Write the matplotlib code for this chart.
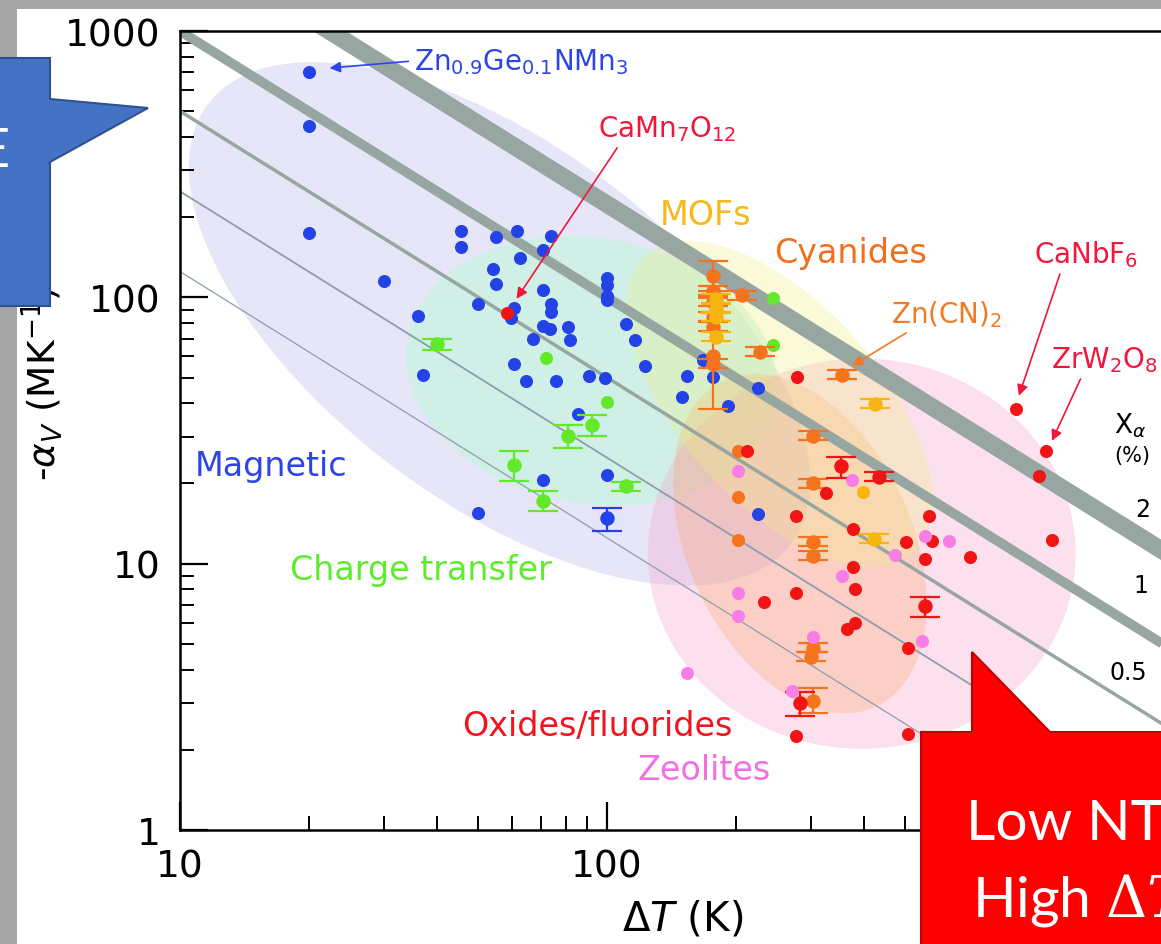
import numpy as np
import matplotlib
matplotlib.use("Agg")
import matplotlib.pyplot as plt
from matplotlib.patches import Polygon, Rectangle
from matplotlib.ticker import FuncFormatter, NullFormatter

# --- values: dT (K) vs -alpha_V (MK^-1) ---
# magnetic (blue)
BLUE_T = [20, 20, 20, 30, 36, 37, 45.5, 45.5, 55, 61.5, 74, 71, 62.5, 54, 55, 71,
          50, 60.5, 59.5, 74, 74, 100, 100, 100, 100, 71, 73.5, 81, 67, 82, 111, 116,
          60.5, 64.5, 76, 91, 99, 85.5, 71, 100, 50, 123, 154, 177, 168, 150, 192, 226, 226]
BLUE_A = [700, 440, 175, 115, 85, 51, 178, 155, 169, 178, 170, 151, 141, 128, 112, 107,
          94.5, 91, 84, 94.5, 88, 118, 111, 101, 98, 78, 76, 77.5, 70, 69, 79.5, 69,
          56, 48.6, 48.6, 50.7, 50, 36.6, 20.7, 21.6, 15.5, 55, 50.7, 50.3, 58.3, 42.3, 39.2, 45.8, 15.3]
BLUE_ERR_T = [100]
BLUE_ERR_A = [14.9]
BLUE_ERR_LO = [13.3]
BLUE_ERR_HI = [16.2]

# charge transfer (green)
GREEN_T = [72, 100, 245, 245]
GREEN_A = [59, 40.5, 99, 66]
GREEN_ERR_T = [40, 92, 81, 60.5, 71]
GREEN_ERR_A = [67, 33.2, 30.2, 23.5, 17.2]
GREEN_ERR_LO = [63.5, 30.2, 27.3, 20.5, 15.7]
GREEN_ERR_HI = [70, 36.2, 33.2, 26.5, 18.8]
GREEN_SMALL_T = [111]
GREEN_SMALL_A = [19.5]

# cyanides (orange)
ORANGE_T = [203, 203, 203]
ORANGE_A = [26.5, 17.8, 12.3]
ORANGE_ERR_T = [177, 177, 304]
ORANGE_ERR_A = [120, 60, 3.06]
ORANGE_ERR_LO = [106, 38, 2.74]
ORANGE_ERR_HI = [137, 99, 3.40]
ORANGE_SMALL_T = [177, 177, 177, 177, 177, 207, 228, 355, 304, 304, 304, 304, 304, 300]
ORANGE_SMALL_A = [105.8, 96.2, 84.5, 77.5, 56.3, 102, 62.4, 51.2, 30.2, 20, 12.1, 10.7, 4.84, 4.48]

# MOFs (yellow)
YELLOW_T = [398]
YELLOW_A = [18.6]
YELLOW_SMALL_T = [180, 180, 180, 180, 424, 422]
YELLOW_SMALL_A = [98.7, 90.5, 84.5, 71.1, 39.8, 12.4]

# oxides / fluorides (red)
RED_T = [58.3, 279, 213, 326, 277, 377, 377, 381, 277, 233, 381, 365, 277, 507, 507,
         568, 501, 577, 555, 708, 907, 1067, 1027, 1102]
RED_A = [87.5, 50.3, 26.5, 18.5, 15.1, 13.5, 9.74, 8.06, 7.78, 7.2, 6.0, 5.7, 2.26, 2.30, 4.84,
         15.1, 12.1, 12.2, 10.4, 10.6, 38.2, 26.5, 21.4, 12.3]
RED_ERR_T = [353, 283, 555]
RED_ERR_A = [23.3, 3.01, 6.96]
RED_ERR_LO = [21.0, 2.69, 6.33]
RED_ERR_HI = [25.2, 3.31, 7.52]
RED_SMALL_T = [433]
RED_SMALL_A = [21.2]

# zeolites (pink)
PINK_T = [203, 375, 473, 555, 632, 355, 203, 203, 304, 154, 271, 547]
PINK_A = [22.3, 20.7, 10.8, 12.7, 12.2, 9.0, 7.78, 6.38, 5.32, 3.9, 3.34, 5.14]

SMALL_ERR = 0.04  # the "=" looking points: tiny error bars

# x_alpha = alpha * dT, in %
XA_BAND = [2.05, 2.45]
XA_LEVELS = [1, 0.5, 0.25, 0.125]
XA_LABELS = ["2", "1", "0.5"]

# shaded regions: centre (dT, alpha), semi-axes in x-decades, tilt in degrees
REGION_NAMES = ["Magnetic", "Charge transfer", "Oxides/fluorides", "Cyanides", "MOFs"]
REGION_T = [56, 92, 395, 283, 254]
REGION_A = [79.5, 53, 10.9, 11.9, 39.8]
REGION_SEMI_A = [0.855, 0.438, 0.501, 0.4215, 0.468]
REGION_SEMI_B = [0.417, 0.311, 0.457, 0.262, 0.234]
REGION_TILT = [-37, -10, 0, -65, -48]

C_BLUE = "#2443e6"
C_GREEN = "#62ea2a"
C_ORANGE = "#f5731c"
C_YELLOW = "#f6b511"
C_RED = "#f01414"
C_PINK = "#f77ee6"
REGION_COLORS = ["#c8c8f0", "#bff8d8", "#f9a8d0", "#f9a060", "#f0f080"]
REGION_ALPHAS = [0.45, 0.55, 0.35, 0.28, 0.3]
LINE_C = "#97a6a1"

W, H = 1161, 945
fig = plt.figure(figsize=(W / 100, H / 100), dpi=100)
fig.patch.set_facecolor("white")

# slide frame (grey strips)
fig.add_artist(Rectangle((0, 1 - 10 / H), 1, 10 / H, transform=fig.transFigure,
                         facecolor="#a6a6a6", edgecolor="none", zorder=0))
fig.add_artist(Rectangle((0, 0), 17 / W, 1, transform=fig.transFigure,
                         facecolor="#a6a6a6", edgecolor="none", zorder=0))

ax = fig.add_axes([180 / W, 1 - 831 / H, 982.5 / W, 799 / H])
ax.set_xscale("log")
ax.set_yscale("log")
ax.set_xlim(10, 2000)
ax.set_ylim(1, 1000)

# pixels per decade so the ellipses look round on screen
bb = ax.get_position()
kx = bb.width * W / np.log10(2000 / 10)
ky = bb.height * H / 3.0

t = np.linspace(0, 2 * np.pi, 300)
for i in range(len(REGION_NAMES)):
    phi = np.radians(REGION_TILT[i])
    u = REGION_SEMI_A[i] * np.cos(t)
    v = REGION_SEMI_B[i] * np.sin(t)
    du = u * np.cos(phi) - v * np.sin(phi)
    dv = u * np.sin(phi) + v * np.cos(phi)
    ax.fill(REGION_T[i] * 10 ** du, REGION_A[i] * 10 ** (dv * kx / ky),
            color=REGION_COLORS[i], alpha=REGION_ALPHAS[i], lw=0, zorder=1)

# constant x_alpha lines
T = np.logspace(1, np.log10(2000), 80)
ax.fill_between(T, XA_BAND[0] * 1e4 / T, XA_BAND[1] * 1e4 / T, color=LINE_C, lw=0, zorder=2)
for lvl, lw, c in zip(XA_LEVELS, [7, 2.5, 1.3, 0.9], [LINE_C, LINE_C, "#8e9cae", "#8e9cae"]):
    ax.plot(T, lvl * 1e4 / T, color=c, lw=lw, zorder=2, solid_capstyle="butt")

MS = 9.4


def dots(x, y, color, z=3):
    ax.plot(x, y, "o", color=color, ms=MS, mew=0, zorder=z)


def bars(x, y, lo, hi, color, z=3):
    y = np.array(y, dtype=float)
    err = [y - np.array(lo), np.array(hi) - y]
    ax.errorbar(x, y, yerr=err, fmt="o", color=color, mec=color, ms=MS, capsize=11,
                elinewidth=1.6, capthick=1.6, zorder=z)


def small(x, y, color, z=3):
    y = np.array(y, dtype=float)
    bars(x, y, y / (1 + SMALL_ERR), y * (1 + SMALL_ERR), color, z)


dots(BLUE_T, BLUE_A, C_BLUE)
bars(BLUE_ERR_T, BLUE_ERR_A, BLUE_ERR_LO, BLUE_ERR_HI, C_BLUE)
dots(GREEN_T, GREEN_A, C_GREEN)
bars(GREEN_ERR_T, GREEN_ERR_A, GREEN_ERR_LO, GREEN_ERR_HI, C_GREEN)
small(GREEN_SMALL_T, GREEN_SMALL_A, C_GREEN)
dots(ORANGE_T, ORANGE_A, C_ORANGE)
bars(ORANGE_ERR_T, ORANGE_ERR_A, ORANGE_ERR_LO, ORANGE_ERR_HI, C_ORANGE)
small(ORANGE_SMALL_T, ORANGE_SMALL_A, C_ORANGE)
dots(YELLOW_T, YELLOW_A, C_YELLOW, 4)
small(YELLOW_SMALL_T, YELLOW_SMALL_A, C_YELLOW, 4)
dots(RED_T, RED_A, C_RED, 4)
bars(RED_ERR_T, RED_ERR_A, RED_ERR_LO, RED_ERR_HI, C_RED, 4)
small(RED_SMALL_T, RED_SMALL_A, C_RED, 4)
dots(PINK_T, PINK_A, C_PINK, 4)

# family labels
big = 24
ax.text(10.84, 21.6, "Magnetic", color="#2d45e8", fontsize=big, zorder=6)
ax.text(18.1, 8.78, "Charge transfer", color="#5eec2e", fontsize=big, zorder=6)
ax.text(132.8, 188.7, "MOFs", color="#f7b818", fontsize=big, zorder=6)
ax.text(246.6, 135.9, "Cyanides", color="#f26f1c", fontsize=big, zorder=6)
ax.text(45.8, 2.28, "Oxides/fluorides", color="#f0141e", fontsize=big, zorder=6)
ax.text(117.6, 1.56, "Zeolites", color="#f26fe0", fontsize=big, zorder=6)


def tag(text, xy, xytext, color, rel):
    ax.annotate(text, xy=xy, xytext=xytext, color=color, fontsize=20, zorder=6,
                ha="left", va="baseline",
                arrowprops=dict(arrowstyle="-|>", color=color, lw=1.2, mutation_scale=16,
                                shrinkA=2, shrinkB=0, relpos=rel))


tag(r"Zn$_{0.9}$Ge$_{0.1}$NMn$_3$", (22.4, 726), (35.3, 720), "#2d45e8", (0, 0.5))
tag(r"CaMn$_7$O$_{12}$", (61.4, 98.7), (95.5, 403.6), "#f0163c", (0.16, 0))
tag(r"Zn(CN)$_2$", (374.8, 55.3), (462.5, 80.9), "#f27a22", (0.2, 0))
tag(r"CaNbF$_6$", (922, 42.7), (998, 135.9), "#f0163c", (0.27, 0))
tag(r"ZrW$_2$O$_8$", (1102, 28.9), (1096, 54.8), "#f0163c", (0.3, 0))

# x_alpha legend on the right
ax.text(0.967, 0.498, r"X$_\alpha$", transform=ax.transAxes, fontsize=19,
        ha="center", va="baseline", zorder=6)
ax.text(0.969, 0.469, "(%)", transform=ax.transAxes, fontsize=15,
        ha="center", va="center", zorder=6)
for lab, (px, py) in zip(XA_LABELS, [(0.9796, 0.4018), (0.978, 0.3066), (0.965, 0.1983)]):
    ax.text(px, py, lab, transform=ax.transAxes, fontsize=17, ha="center", va="center", zorder=6)

# axes styling
fmt = FuncFormatter(lambda v, p: f"{v:g}")
ax.xaxis.set_major_formatter(fmt)
ax.yaxis.set_major_formatter(fmt)
ax.xaxis.set_minor_formatter(NullFormatter())
ax.yaxis.set_minor_formatter(NullFormatter())
ax.tick_params(which="both", direction="in", top=False, right=False)
ax.tick_params(which="major", length=20, width=1.6, labelsize=27)
ax.tick_params(which="minor", length=10, width=1.4)
ax.tick_params(axis="x", which="major", pad=13)
ax.tick_params(axis="y", which="major", pad=14)
for s in ax.spines.values():
    s.set_linewidth(1.8)

ax.set_xlabel(r"$\Delta T$ (K)", fontsize=29, va="center")
ax.xaxis.set_label_coords(0.512, -0.111)
ax.set_ylabel(r"-$\alpha_V$ (MK$^{-1}$)", fontsize=27, va="center")
ax.yaxis.set_label_coords(-0.139, 0.560)


# slide callouts on top of the chart
def px_poly(pts, fc, ec):
    xy = [(x / W, 1 - y / H) for x, y in pts]
    fig.add_artist(Polygon(xy, closed=True, transform=fig.transFigure,
                           facecolor=fc, edgecolor=ec, lw=1.5, zorder=10))


px_poly([(-10, 59), (50, 59), (50, 100), (148, 109), (50, 163), (50, 307), (-10, 307)],
        "#4472c4", "#2f528f")
fig.text(10.4 / W, 1 - 166 / H, "High NTE", fontsize=39, family="Lato", color="white",
         ha="right", va="baseline", zorder=11)

px_poly([(921, 733), (972, 733), (972, 653), (1050, 733), (1180, 733), (1180, 960), (921, 960)],
        "#fe0000", "#c00000")
fig.text(966 / W, 1 - 840 / H, "Low NTE", fontsize=41, family="Lato", color="white",
         ha="left", va="baseline", zorder=11)
fig.text(972 / W, 1 - 917 / H, r"High $\Delta T$", fontsize=41, family="Lato", color="white",
         ha="left", va="baseline", zorder=11, math_fontfamily="dejavuserif")

fig.savefig("out.png", dpi=100)
